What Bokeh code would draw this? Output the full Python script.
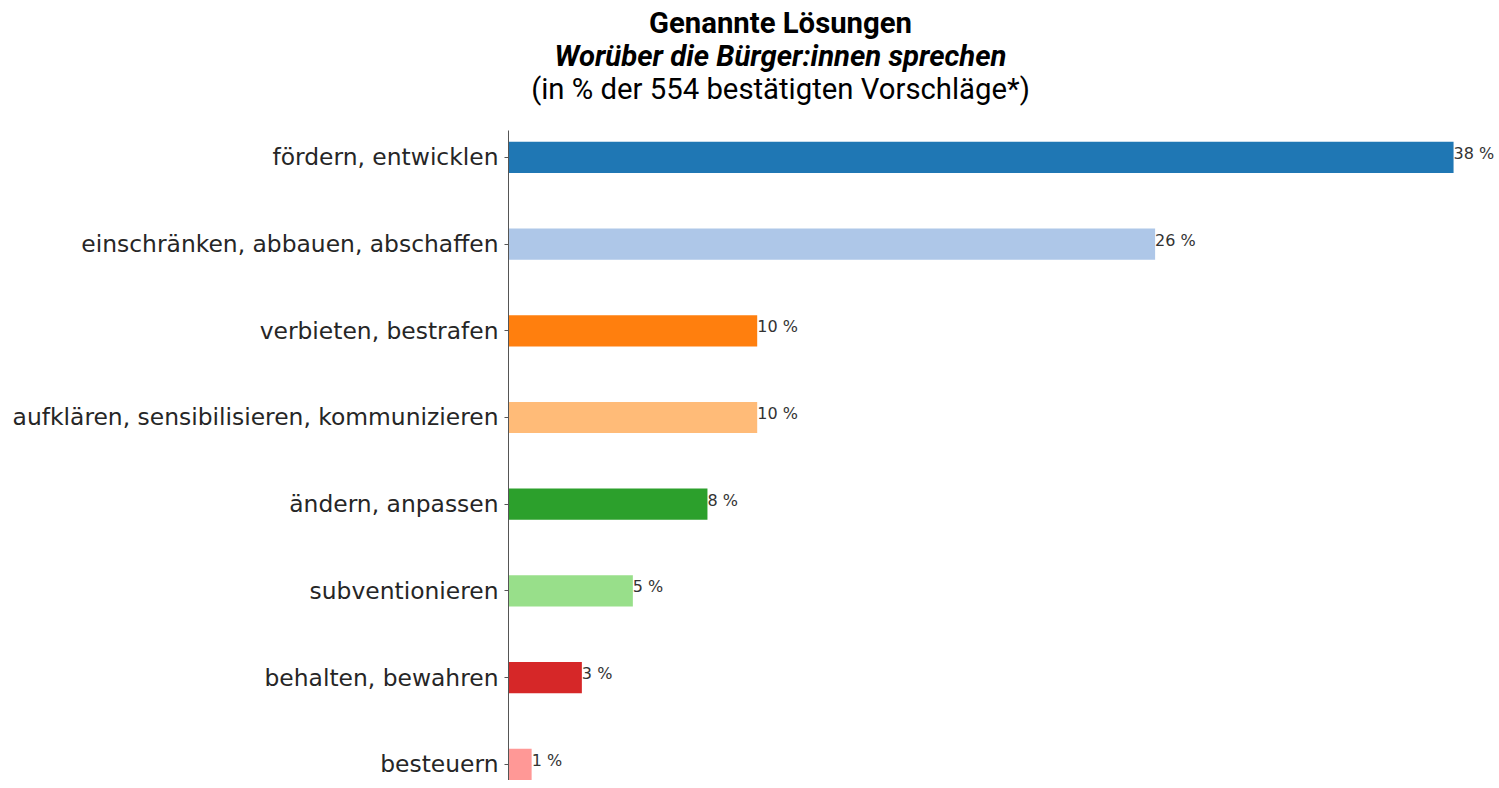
from bokeh.plotting import figure
from bokeh.layouts import column
from bokeh.models import Range1d, FixedTicker, ColumnDataSource
from bokeh.core.properties import value
from bokeh.embed import file_html
from bokeh.resources import INLINE

categories = [
    "fördern, entwicklen",
    "einschränken, abbauen, abschaffen",
    "verbieten, bestrafen",
    "aufklären, sensibilisieren, kommunizieren",
    "ändern, anpassen",
    "subventionieren",
    "behalten, bewahren",
    "besteuern",
]
values = [38.0, 26.0, 10.0, 10.0, 8.0, 5.0, 2.95, 0.93]
colors = ["#1f77b4", "#aec7e8", "#ff7f0e", "#ffbb78",
          "#2ca02c", "#98df8a", "#d62728", "#ff9896"]
title_lines = ["Genannte Lösungen", "Worüber die Bürger:innen sprechen",
               "(in % der 554 bestätigten Vorschläge*)"]

W = 1497
LEFT = 508
FW = W - LEFT
TH = 126

# ---- title figure (frame aligned with the bar frame) ----
t = figure(width=W, height=TH, output_backend="svg", toolbar_location=None,
           x_range=Range1d(0, FW), y_range=Range1d(TH, 0),
           min_border_left=LEFT, min_border_right=0, min_border_top=0,
           min_border_bottom=0, outline_line_color=None)
t.axis.visible = False
t.grid.visible = False
cx = 780 - LEFT
styles = ["bold", "bold italic", "normal"]
bases = [22, 55, 88]
for line, st, b in zip(title_lines, styles, bases):
    t.text(x=[cx], y=[b], text=[line], text_font=value("Roboto"),
           text_font_size="29.3px", text_font_style=st, text_align="center",
           text_baseline="alphabetic", text_color="#000000")

# ---- bar figure ----
ys = list(range(len(categories)))
src = ColumnDataSource(dict(y=ys, v=values, c=colors,
                            lab=[f"{v:.0f} %" for v in values]))

p = figure(width=W, height=654, output_backend="svg", toolbar_location=None,
           x_range=Range1d(0, FW / 24.87), y_range=Range1d(7.187, -0.31),
           min_border_left=LEFT, min_border_right=0, min_border_top=4,
           min_border_bottom=0, outline_line_color=None)
p.hbar(y="y", right="v", left=0, height=0.36, fill_color="c",
       line_color=None, source=src)
p.text(x="v", y="y", text="lab", source=src, text_font=value("DejaVu Sans"),
       text_font_size="16px", text_color="#333333", text_align="left",
       text_baseline="alphabetic", y_offset=-4)

p.xaxis.visible = False
p.grid.visible = False
p.yaxis.ticker = FixedTicker(ticks=ys)
p.yaxis.major_label_overrides = {i: c for i, c in enumerate(categories)}
p.yaxis.major_label_text_font = "DejaVu Sans"
p.yaxis.major_label_text_font_size = "23.4px"
p.yaxis.major_label_text_color = "#262626"
p.yaxis.axis_line_color = "#555555"
p.yaxis.major_tick_line_color = "#555555"
p.yaxis.major_tick_out = 4
p.yaxis.major_tick_in = 0
p.yaxis.minor_tick_line_color = None
p.yaxis.major_label_standoff = 6

layout = column(t, p, spacing=0)
open("out.html", "w").write(file_html(layout, INLINE))
